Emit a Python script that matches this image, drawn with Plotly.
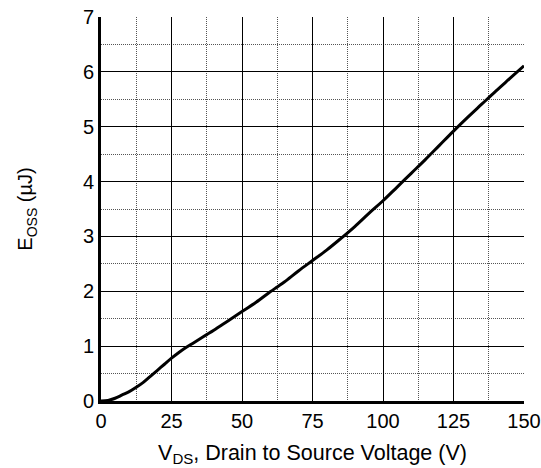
import plotly.graph_objects as go

vds = [0, 2.5, 5, 7.5, 10, 12.5, 15, 17.5, 20, 22.5, 25, 27.5, 30, 32.5, 35, 37.5, 40, 45, 50, 55, 60,
       62.5, 65, 70, 75, 80, 85, 90, 95, 100, 105, 110, 115, 120, 125, 130, 135, 140, 145, 150]
eoss = [0, 0.01, 0.05, 0.11, 0.17, 0.25, 0.34, 0.45, 0.56, 0.67, 0.78, 0.88, 0.97, 1.05, 1.13, 1.21, 1.29,
        1.46, 1.63, 1.80, 1.99, 2.08, 2.17, 2.37, 2.56, 2.75, 2.96, 3.18, 3.42, 3.65, 3.90, 4.15, 4.40,
        4.66, 4.92, 5.17, 5.41, 5.65, 5.88, 6.11]

x_ticks = [0, 25, 50, 75, 100, 125, 150]
y_ticks = [0, 1, 2, 3, 4, 5, 6, 7]

font = "Liberation Sans, Arial, sans-serif"

fig = go.Figure()
fig.add_trace(go.Scatter(x=vds, y=eoss, mode="lines", line=dict(color="black", width=3, shape="spline"),
                         showlegend=False, hoverinfo="skip"))

fig.update_layout(
    width=541, height=468,
    margin=dict(l=101, r=17, t=17, b=67, autoexpand=False),
    paper_bgcolor="white", plot_bgcolor="white",
    font=dict(family=font, size=20, color="black"),
)
fig.update_xaxes(
    range=[0, 150], tickvals=x_ticks, ticktext=[str(v) for v in x_ticks],
    showgrid=True, gridcolor="black", gridwidth=1,
    minor=dict(dtick=12.5, showgrid=True, gridcolor="#555555", griddash="1px,1px", gridwidth=1),
    showline=True, linecolor="black", linewidth=3, zeroline=False, ticks="",
    tickfont=dict(size=20), automargin=False,
    title=dict(text="V<sub>DS</sub>, Drain to Source Voltage (V)", font=dict(size=21.5), standoff=14),
)
fig.update_yaxes(
    range=[0, 7], tickvals=y_ticks, ticktext=[str(v) for v in y_ticks],
    showgrid=True, gridcolor="black", gridwidth=1,
    minor=dict(dtick=0.5, showgrid=True, gridcolor="#555555", griddash="1px,1px", gridwidth=1),
    showline=True, linecolor="black", linewidth=3, zeroline=False, ticks="",
    tickfont=dict(size=20), automargin=False,
    title=dict(text="E<sub>OSS</sub> (µJ)", font=dict(size=20), standoff=45),
)

fig.write_html("out.html", config={"displayModeBar": False},
               post_script="document.body.style.margin='0';document.body.style.padding='0';")
